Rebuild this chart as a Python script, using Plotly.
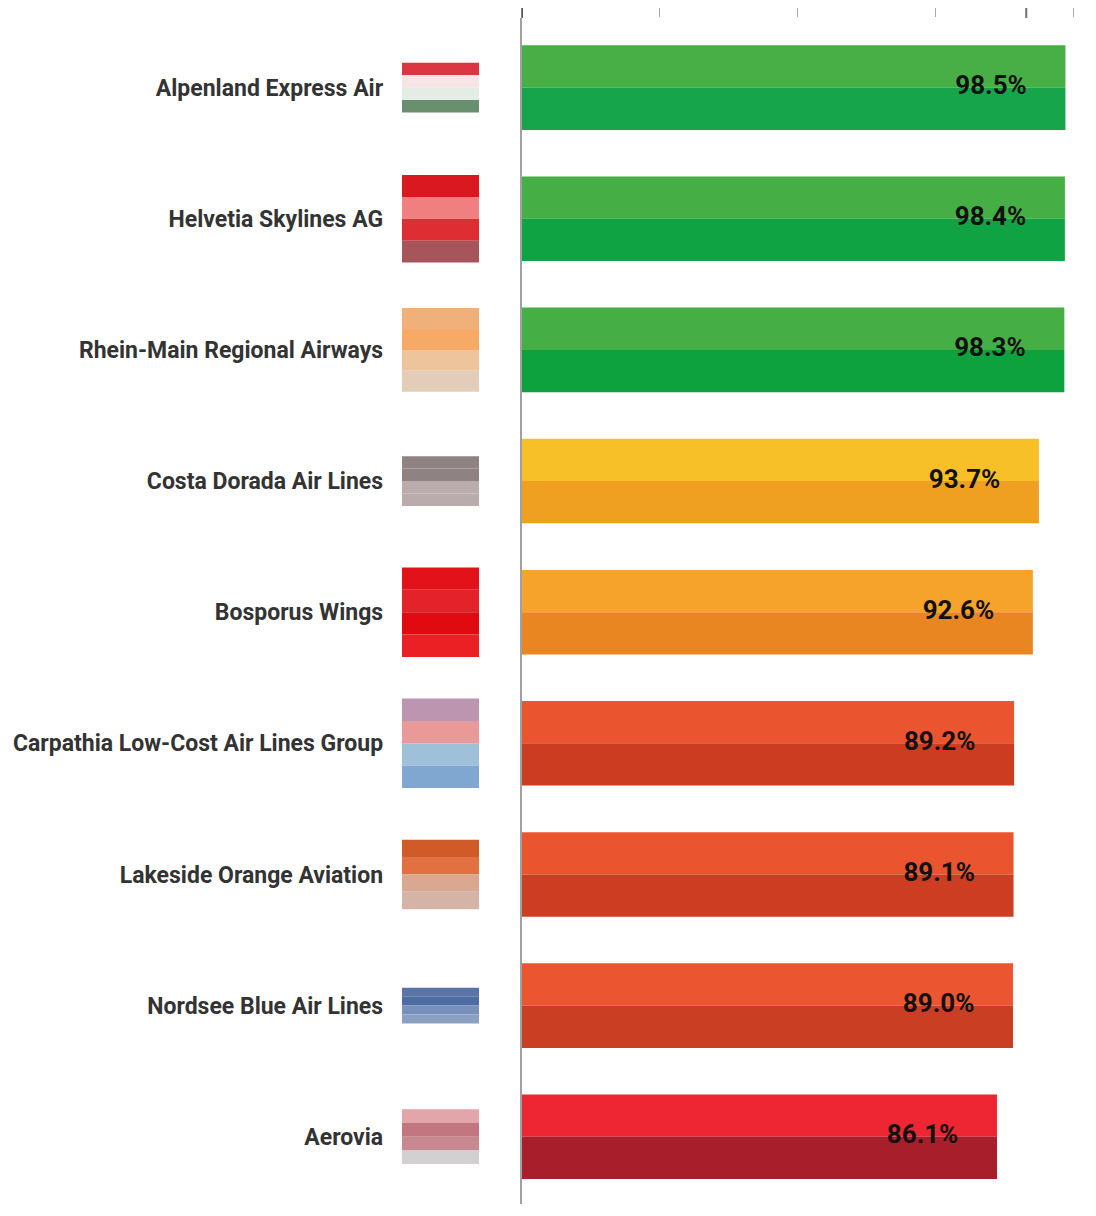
import plotly.graph_objects as go

# ---------------- data ----------------
labels = [
    "Alpenland Express Air",
    "Helvetia Skylines AG",
    "Rhein-Main Regional Airways",
    "Costa Dorada Air Lines",
    "Bosporus Wings",
    "Carpathia Low-Cost Air Lines Group",
    "Lakeside Orange Aviation",
    "Nordsee Blue Air Lines",
    "Aerovia",
]
values = [98.5, 98.4, 98.3, 93.7, 92.6, 89.2, 89.1, 89.0, 86.1]
reference_value = 91.4
axis_ticks = [0, 25, 50, 75, 100]

# bar colours: upper half / lower half of each bar
bar_top_colors = ["#47AF45", "#45AE44", "#45AE45", "#F8C028", "#F5A32A",
                  "#EA5530", "#EA5530", "#EB5630", "#EE2633"]
bar_bottom_colors = ["#16A54A", "#10A344", "#0DA23E", "#EFA020", "#E98622",
                     "#CC3C20", "#CC3D21", "#CA3E24", "#A81E2A"]

# logo badges next to the labels: height (px) and four horizontal stripes
logo_heights = [50, 88, 84, 50, 90, 90, 70, 36, 55]
logo_stripes = [
    ["#DA3742", "#F7E4E5", "#E3ECE5", "#688F6E"],
    ["#DA1820", "#F08080", "#DE2E34", "#A6565A"],
    ["#F0B07A", "#F6AA66", "#EEC49C", "#E3CDB9"],
    ["#8E8282", "#8E8282", "#BAACAC", "#BAACAC"],
    ["#E31119", "#E32229", "#E00A10", "#EA2024"],
    ["#BC96B1", "#E99998", "#9EC0D8", "#7FA7D0"],
    ["#D05A28", "#E27040", "#D8A890", "#D4B4A6"],
    ["#5A74A6", "#4E6CA4", "#7890BC", "#8BA1C3"],
    ["#E2A5AA", "#C27680", "#C88890", "#D2D0D0"],
]

# ---------------- layout constants ----------------
W, H = 1096, 1216
PAGE_OFFSET = 8            # default body margin of the html page
M_TOP, M_BOT = 4, 20
Y_RANGE = [8.513, -0.531]
px_per_unit = (H - M_TOP - M_BOT) / (Y_RANGE[0] - Y_RANGE[1])
BAR_W = 85 / px_per_unit
half = BAR_W / 2

idx = list(range(len(labels)))

fig = go.Figure()

# main two-tone bars
fig.add_trace(go.Bar(
    y=idx, x=values, orientation="h", width=half, offset=-half,
    marker=dict(color=bar_top_colors, line=dict(width=0)),
    hoverinfo="skip", showlegend=False))
fig.add_trace(go.Bar(
    y=idx, x=values, orientation="h", width=half, offset=0,
    marker=dict(color=bar_bottom_colors, line=dict(width=0)),
    hoverinfo="skip", showlegend=False))

# value labels inside the bar ends
fig.add_trace(go.Scatter(
    y=idx, x=[v - 7 for v in values], mode="text",
    text=[f"<b>{v:.1f}%</b>" for v in values],
    textposition="middle left",
    textfont=dict(family="Roboto, Arial, sans-serif", size=26, color="#111111"),
    hoverinfo="skip", showlegend=False))

# logo badges (stripes) on a secondary x axis
for j in range(4):
    heights = [h / px_per_unit for h in logo_heights]
    fig.add_trace(go.Bar(
        y=idx, x=[1] * len(idx), base=0, orientation="h",
        width=[h / 4 for h in heights],
        offset=[-h / 2 + j * h / 4 for h in heights],
        marker=dict(color=[s[j] for s in logo_stripes], line=dict(width=0)),
        xaxis="x2", yaxis="y", hoverinfo="skip", showlegend=False))

x0_px, x1_px = 521.7 - PAGE_OFFSET, 1082 - PAGE_OFFSET
tick_top = 1 + M_TOP / (H - M_TOP - M_BOT) * 2.5
fig.update_layout(
    width=W, height=H,
    margin=dict(l=0, r=0, t=M_TOP, b=M_BOT),
    paper_bgcolor="white", plot_bgcolor="white",
    barmode="overlay",
    font=dict(family="Roboto, Arial, sans-serif"),
    xaxis=dict(
        domain=[x0_px / W, x1_px / W],
        range=[0, 101.5], side="top",
        tickvals=axis_ticks, ticks="outside", ticklen=10, tickwidth=1,
        tickcolor="#A8A8A8", showticklabels=False,
        showgrid=False, zeroline=False, showline=False, fixedrange=True),
    xaxis2=dict(
        domain=[(402 - PAGE_OFFSET) / W, (479 - PAGE_OFFSET) / W],
        range=[0, 1], anchor="y", visible=False, fixedrange=True),
    yaxis=dict(
        range=Y_RANGE, anchor="x",
        tickvals=idx, ticktext=[f"<b>{t}</b>" for t in labels],
        ticks="", ticklabelstandoff=132,
        tickfont=dict(family="Roboto, Arial, sans-serif", size=23, color="#333333"),
        showgrid=False, zeroline=False,
        showline=True, linecolor="#A0A0A0", linewidth=2, fixedrange=True),
    shapes=[
        dict(type="line", xref="x", yref="paper", x0=0, x1=0,
             y0=1, y1=tick_top, line=dict(color="#111111", width=2)),
        dict(type="line", xref="x", yref="paper", x0=reference_value,
             x1=reference_value, y0=1, y1=tick_top,
             line=dict(color="#707070", width=2)),
    ],
)

fig.write_html("out.html")
